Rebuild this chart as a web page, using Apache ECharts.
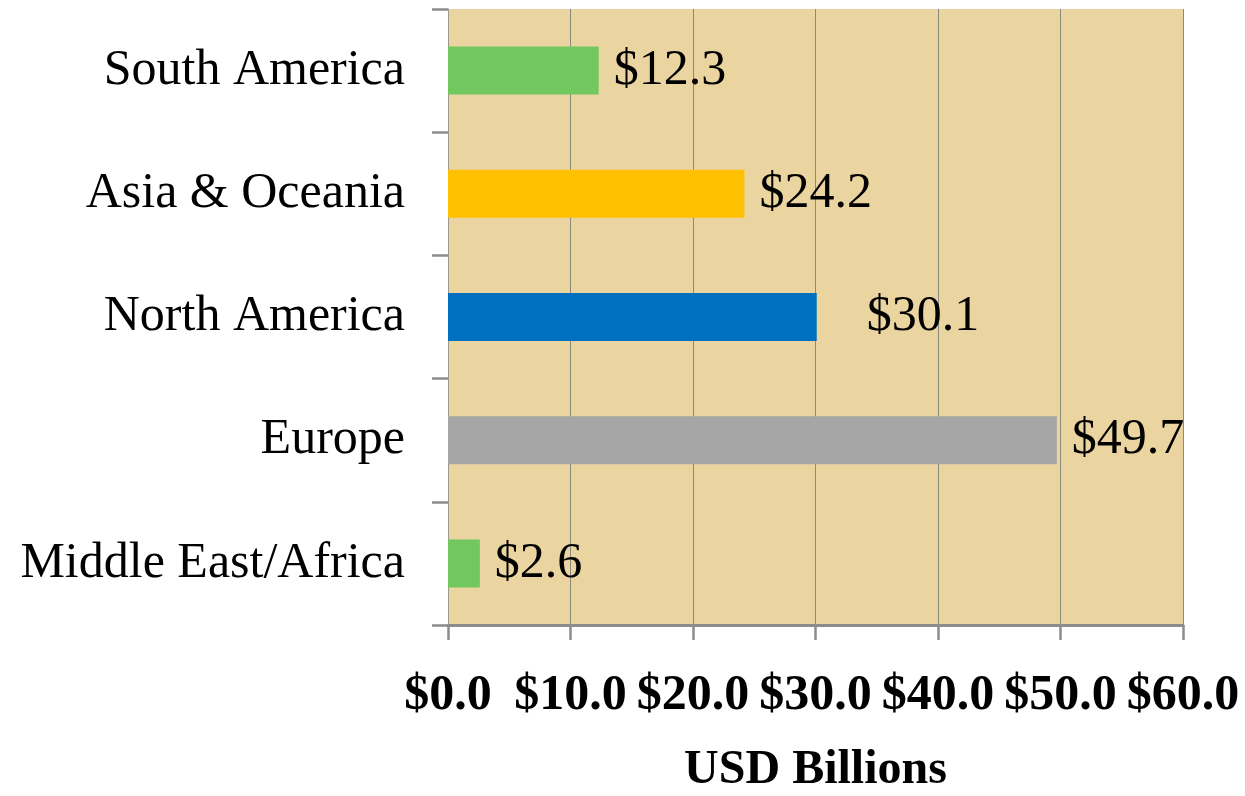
<!DOCTYPE html>
<html>
<head>
<meta charset="utf-8">
<script src="https://cdn.jsdelivr.net/npm/echarts@6/dist/echarts.min.js"></script>
<style>
html,body{margin:0;padding:0;background:#fff;}
#chart{width:1245px;height:796px;}
</style>
</head>
<body>
<div id="chart"></div>
<script>
// Data (bottom to top)
const categories = ['Middle East/Africa', 'Europe', 'North America', 'Asia & Oceania', 'South America'];
const values = [2.6, 49.7, 30.1, 24.2, 12.3];
const barColors = ['#73C75F', '#A6A6A6', '#0070C0', '#FFC000', '#73C75F'];
const xTicks = [0, 10, 20, 30, 40, 50, 60];
const axisTitle = 'USD Billions';

const chart = echarts.init(document.getElementById('chart'), null, {renderer: 'canvas'});

const seriesData = values.map((v, i) => {
  const item = { value: v, itemStyle: { color: barColors[i] } };
  if (categories[i] === 'North America') {
    item.label = { distance: 50 };
  }
  return item;
});

const option = {
  animation: false,
  backgroundColor: '#ffffff',
  grid: {
    left: 448, right: 62, top: 9, bottom: 171,
    outerBoundsMode: 'none',
    containLabel: false,
    show: true, backgroundColor: '#EAD5A0', borderWidth: 0
  },
  xAxis: {
    type: 'value',
    min: xTicks[0], max: xTicks[xTicks.length - 1], interval: 10,
    axisLine: { show: true, lineStyle: { color: '#8c8c8c', width: 3 } },
    axisTick: { show: true, length: 15, lineStyle: { color: '#8c8c8c', width: 2.5 } },
    splitLine: { show: true, lineStyle: { color: '#8a8a80', width: 1 } },
    axisLabel: {
      margin: 46,
      fontFamily: 'Liberation Serif', fontWeight: 'bold', fontSize: 50, color: '#000',
      formatter: v => '$' + v.toFixed(1)
    },
    name: axisTitle,
    nameLocation: 'middle',
    nameGap: 122,
    nameTextStyle: { fontFamily: 'Liberation Serif', fontWeight: 'bold', fontSize: 48, color: '#000' }
  },
  yAxis: {
    type: 'category',
    data: categories,
    axisLine: { show: true, lineStyle: { color: '#9a9a90', width: 1 } },
    axisTick: { show: true, inside: false, length: 16, lineStyle: { color: '#8c8c8c', width: 2.5 } },
    axisLabel: {
      margin: 43,
      fontFamily: 'Liberation Serif', fontSize: 50, color: '#000'
    },
    splitLine: { show: false }
  },
  series: [{
    type: 'bar',
    data: seriesData,
    barWidth: 48,
    label: {
      show: true, position: 'right', distance: 15,
      fontFamily: 'Liberation Serif', fontSize: 50, color: '#000',
      formatter: p => '$' + p.value.toFixed(1)
    }
  }]
};
chart.setOption(option);
</script>
</body>
</html>
